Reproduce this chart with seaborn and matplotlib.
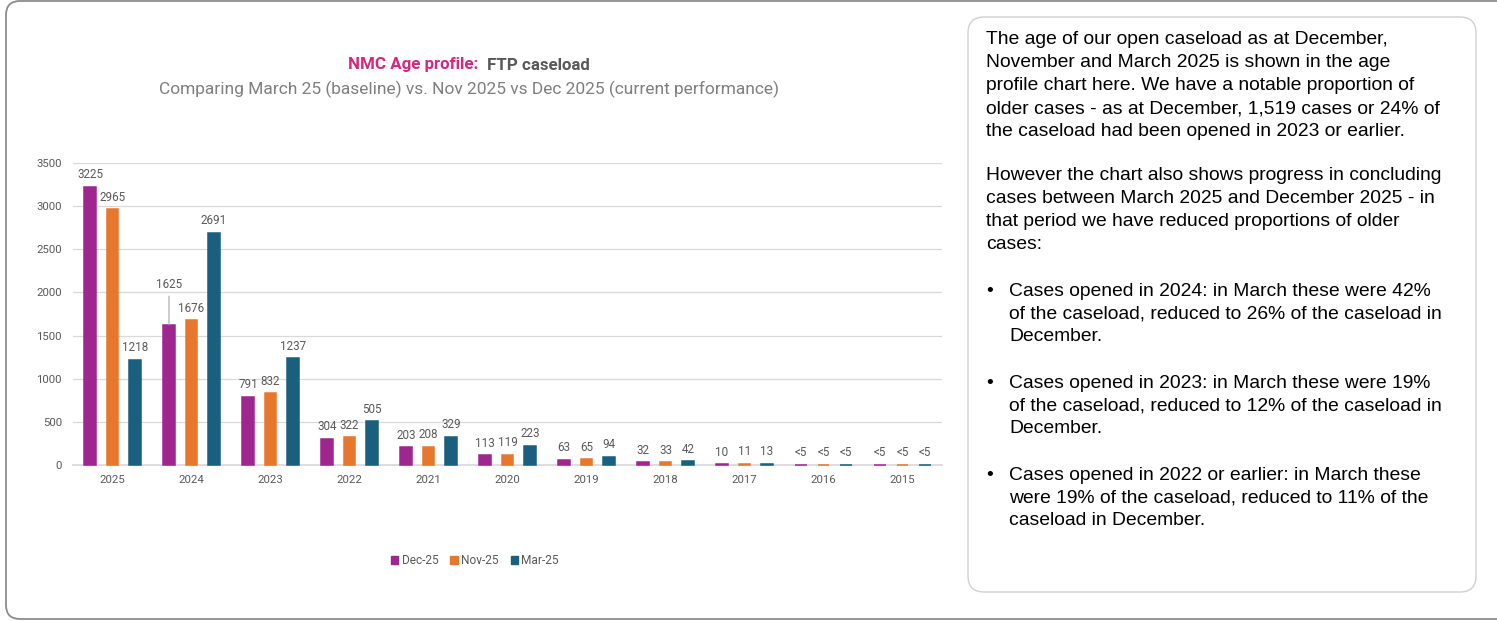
import matplotlib
matplotlib.use("Agg")
import matplotlib.pyplot as plt
import matplotlib.transforms as mtransforms
import seaborn as sns
import pandas as pd
from matplotlib.patches import FancyBboxPatch, Patch

# ---- data ----
years = ["2025", "2024", "2023", "2022", "2021", "2020", "2019", "2018", "2017", "2016", "2015"]
series_names = ["Dec-25", "Nov-25", "Mar-25"]
dec25 = [3225, 1625, 791, 304, 203, 113, 63, 32, 10, 3, 3]
nov25 = [2965, 1676, 832, 322, 208, 119, 65, 33, 11, 3, 3]
mar25 = [1218, 2691, 1237, 505, 329, 223, 94, 42, 13, 3, 3]
dec25_labels = ["3225", "1625", "791", "304", "203", "113", "63", "32", "10", "<5", "<5"]
nov25_labels = ["2965", "1676", "832", "322", "208", "119", "65", "33", "11", "<5", "<5"]
mar25_labels = ["1218", "2691", "1237", "505", "329", "223", "94", "42", "13", "<5", "<5"]
colors = ["#A0268F", "#E8772E", "#1A5F7E"]

rows = []
for name, vals in zip(series_names, [dec25, nov25, mar25]):
    for y, v in zip(years, vals):
        rows.append({"Year": y, "Series": name, "Cases": v})
df = pd.DataFrame(rows)

sns.set_theme(style="white")
plt.rcParams["font.family"] = ["Roboto", "DejaVu Sans"]

W, H = 1497, 621
fig = plt.figure(figsize=(W / 100, H / 100), dpi=100)
# pixel transform (origin bottom-left, pixel units)
pix = mtransforms.Affine2D().scale(1 / W, 1 / H) + fig.transFigure

# outer rounded border
outer = FancyBboxPatch((6, 2), W + 30, 618,
                       boxstyle="round,pad=0,rounding_size=14",
                       transform=pix, fill=False,
                       edgecolor="#8C8C8C", linewidth=1.3)
fig.patches.append(outer)

ax = fig.add_axes([73 / W, 1 - 465 / H, 869 / W, (465 - 163) / H])
sns.barplot(data=df, x="Year", y="Cases", hue="Series", order=years,
            hue_order=series_names, palette=colors, width=0.855, gap=0.48,
            saturation=1, ax=ax, legend=False)

ax.set_ylim(0, 3500)
ax.set_xlim(-0.5, len(years) - 0.5)
ax.set_yticks(range(0, 3501, 500))
ax.yaxis.grid(True, color="#D9D9D9", linewidth=0.9)
ax.set_axisbelow(True)
for s in ["top", "right", "left"]:
    ax.spines[s].set_visible(False)
ax.spines["bottom"].set_color("#D9D9D9")
ax.spines["bottom"].set_zorder(1)
ax.set_xlabel("")
ax.set_ylabel("")
ax.tick_params(axis="both", length=0, labelsize=8.2, labelcolor="#595959")
ax.tick_params(axis="x", pad=7)
ax.tick_params(axis="y", pad=8)

label_sets = [dec25_labels, nov25_labels, mar25_labels]
for ci, cont in enumerate(ax.containers):
    for bi, patch in enumerate(cont.patches):
        patch.set_edgecolor(colors[ci])
        patch.set_linewidth(1.1)
        patch.set_clip_on(False)
        patch.set_zorder(3)
        xc = patch.get_x() + patch.get_width() / 2
        h = patch.get_height()
        txt = label_sets[ci][bi]
        if ci == 0 and years[bi] == "2024":
            ax.annotate(txt, xy=(xc, h), xytext=(0, 24), textcoords="offset points",
                        ha="center", va="bottom", fontsize=8.4, color="#595959",
                        arrowprops=dict(arrowstyle="-", color="#A6A6A6", lw=0.8,
                                        shrinkA=1, shrinkB=0))
        else:
            ax.annotate(txt, xy=(xc, h), xytext=(0, 4), textcoords="offset points",
                        ha="center", va="bottom", fontsize=8.4, color="#595959")

# titles
fig.text(478 / W, 1 - 65 / H, "NMC Age profile:", ha="right", va="center",
         fontsize=12.2, fontweight="bold", color="#D6267F")
fig.text(487 / W, 1 - 65 / H, "FTP caseload", ha="left", va="center",
         fontsize=12.2, fontweight="bold", color="#595959")
fig.text(469 / W, 1 - 89 / H,
         "Comparing March 25 (baseline) vs. Nov 2025 vs Dec 2025 (current performance)",
         ha="center", va="center", fontsize=12.5, color="#7F7F7F")

# legend
handles = [Patch(facecolor=c, edgecolor=c) for c in colors]
fig.legend(handles, series_names, loc="center", bbox_to_anchor=(475 / W, 1 - 561 / H),
           ncol=3, frameon=False, fontsize=8.6, handlelength=0.6, handleheight=0.6,
           handletextpad=0.3, columnspacing=1.0, labelcolor="#595959")

# right text box
box = FancyBboxPatch((968, H - 592), 1476 - 968, 592 - 17,
                     boxstyle="round,pad=0,rounding_size=16",
                     transform=pix, facecolor="white",
                     edgecolor="#D0D0D0", linewidth=1.0)
fig.patches.append(box)

para1 = ["The age of our open caseload as at December,",
         "November and March 2025 is shown in the age",
         "profile chart here. We have a notable proportion of",
         "older cases - as at December, 1,519 cases or 24% of",
         "the caseload had been opened in 2023 or earlier."]
para2 = ["However the chart also shows progress in concluding",
         "cases between March 2025 and December 2025 - in",
         "that period we have reduced proportions of older",
         "cases:"]
bullets = [["Cases opened in 2024: in March these were 42%",
            "of the caseload, reduced to 26% of the caseload in",
            "December."],
           ["Cases opened in 2023: in March these were 19%",
            "of the caseload, reduced to 12% of the caseload in",
            "December."],
           ["Cases opened in 2022 or earlier: in March these",
            "were 19% of the caseload, reduced to 11% of the",
            "caseload in December."]]

tfont = dict(fontsize=13.9, color="#000000", family=["Liberation Sans", "DejaVu Sans"],
             va="center", ha="left")
lh = 22.9
y = 40
for line in para1:
    fig.text(986 / W, 1 - y / H, line, **tfont)
    y += lh
y = 176
for line in para2:
    fig.text(986 / W, 1 - y / H, line, **tfont)
    y += lh
y0s = [291, 383, 475]
for y0, bl in zip(y0s, bullets):
    fig.text(986 / W, 1 - y0 / H, "•", **tfont)
    yy = y0
    for line in bl:
        fig.text(1009 / W, 1 - yy / H, line, **tfont)
        yy += lh

fig.savefig("out.png", dpi=100)
